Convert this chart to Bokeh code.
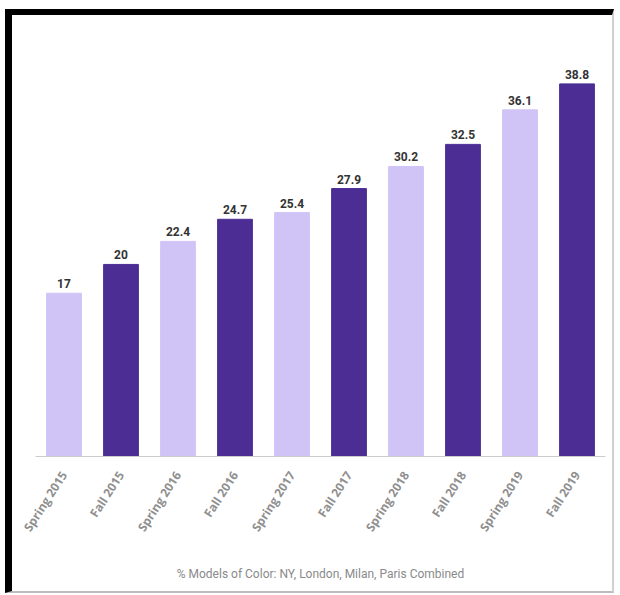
import math
from bokeh.plotting import figure
from bokeh.models import ColumnDataSource, LabelSet, Range1d
from bokeh.core.properties import value
from bokeh.embed import file_html
from bokeh.resources import INLINE

categories = ["Spring 2015", "Fall 2015", "Spring 2016", "Fall 2016", "Spring 2017",
              "Fall 2017", "Spring 2018", "Fall 2018", "Spring 2019", "Fall 2019"]
values = [17, 20, 22.4, 24.7, 25.4, 27.9, 30.2, 32.5, 36.1, 38.8]
value_labels = ["17", "20", "22.4", "24.7", "25.4", "27.9", "30.2", "32.5", "36.1", "38.8"]
title_text = "% Models of Color: NY, London, Milan, Paris Combined"

LIGHT = "#D0C4F7"
DARK = "#4B2D94"
colors = [LIGHT if i % 2 == 0 else DARK for i in range(len(categories))]

src = ColumnDataSource(dict(cat=categories, val=values, lab=value_labels, color=colors))

# content box: x 12..612, y 15..591 (page border drawn with CSS around it)
p = figure(frame_width=570, frame_height=436, x_range=categories, y_range=Range1d(0, 45.4),
           output_backend="svg", toolbar_location=None,
           min_border_left=23, min_border_right=7, min_border_top=5, min_border_bottom=135)
p.margin = (9, 0, 0, 5)
p.styles = {"border-top": "6px solid #000000", "border-left": "7px solid #000000",
            "border-right": "2px solid #d0d0d0", "border-bottom": "2px solid #bdbdbd",
            "box-sizing": "content-box"}
p.x_range.range_padding = 0
p.vbar(x="cat", top="val", width=0.61, color="color", source=src)

labels = LabelSet(x="cat", y="val", text="lab", source=src, text_align="center",
                  text_baseline="bottom", y_offset=5, text_font_size=value("12px"),
                  text_font=value("Roboto"), text_font_style="bold", text_color="#333333")
p.add_layout(labels)

p.yaxis.visible = False
p.xgrid.visible = False
p.ygrid.visible = False
p.outline_line_color = None
p.xaxis.axis_line_color = "#cccccc"
p.xaxis.major_tick_line_color = None
p.xaxis.minor_tick_line_color = None
p.xaxis.major_label_orientation = math.radians(57)
p.xaxis.major_label_standoff = 10
p.xaxis.major_label_text_font = "Open Sans"
p.xaxis.major_label_text_font_style = "bold"
p.xaxis.major_label_text_font_size = "12px"
p.xaxis.major_label_text_color = "#8f8f8f"
p.xaxis.axis_label = title_text
p.xaxis.axis_label_text_font = "Roboto"
p.xaxis.axis_label_text_font_style = "normal"
p.xaxis.axis_label_text_font_size = "12px"
p.xaxis.axis_label_text_color = "#8a8a8a"
p.xaxis.axis_label_standoff = 25

open("out.html", "w").write(file_html(p, INLINE))
